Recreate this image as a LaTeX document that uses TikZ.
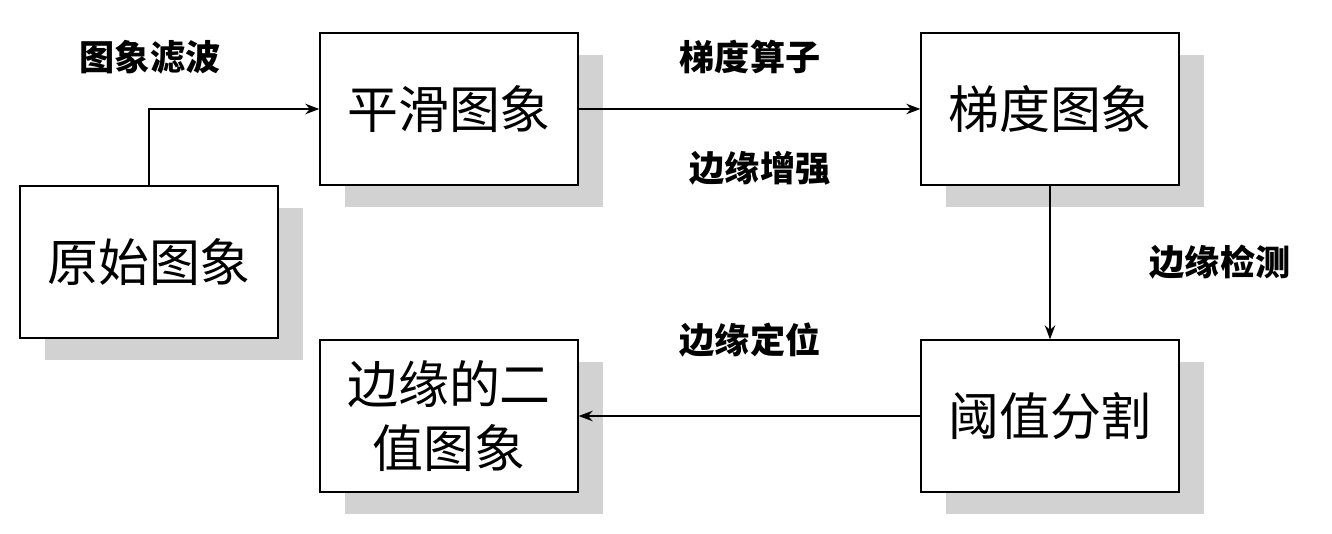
\documentclass[tikz,border=0pt]{standalone}
\usepackage{fontspec}
\newfontfamily\cjk{Noto Sans CJK SC}
\usetikzlibrary{positioning,arrows.meta}
\tikzset{
	stage/.style={draw, thick, fill=white, minimum width=5.16cm, minimum height=3.04cm,
		align=center, font=\cjk\fontsize{29}{36}\selectfont},
	shade box/.style={fill=gray!35, draw=none, minimum width=5.16cm, minimum height=3.04cm},
	tag/.style={font=\cjk\bfseries\fontsize{20}{24}\selectfont},
	flow/.style={thick, -{Stealth[length=8pt,width=6pt]}}
}
\begin{document}
\begin{tikzpicture}[x=0.02cm, y=-0.02cm]
	\useasboundingbox[fill=white] (0,0) rectangle (1332,534);
	% shadows
	\foreach \cx/\cy in {149/262, 449/109, 1050/109, 1050/416, 449/416}{
		\node[shade box] at (\cx+25,\cy+22) {};
	}
	% stages
	\node[stage] (raw) at (149,262) {原始图象};
	\node[stage] (smooth) at (449,109) {平滑图象};
	\node[stage] (grad) at (1050,109) {梯度图象};
	\node[stage] (thresh) at (1050,416) {阈值分割};
	\node[stage] (binary) at (449,416) {边缘的二\\值图象};
	% connectors
	\draw[flow] (raw.north) |- (smooth.west);
	\draw[flow] (smooth.east) -- (grad.west);
	\draw[flow] (grad.south) -- (thresh.north);
	\draw[flow] (thresh.west) -- (binary.east);
	% labels
	\node[tag] at (150,57) {图象滤波};
	\node[tag] at (750,57) {梯度算子};
	\node[tag] at (760,168) {边缘增强};
	\node[tag] at (1220,262) {边缘检测};
	\node[tag] at (750,340) {边缘定位};
\end{tikzpicture}
\end{document}
